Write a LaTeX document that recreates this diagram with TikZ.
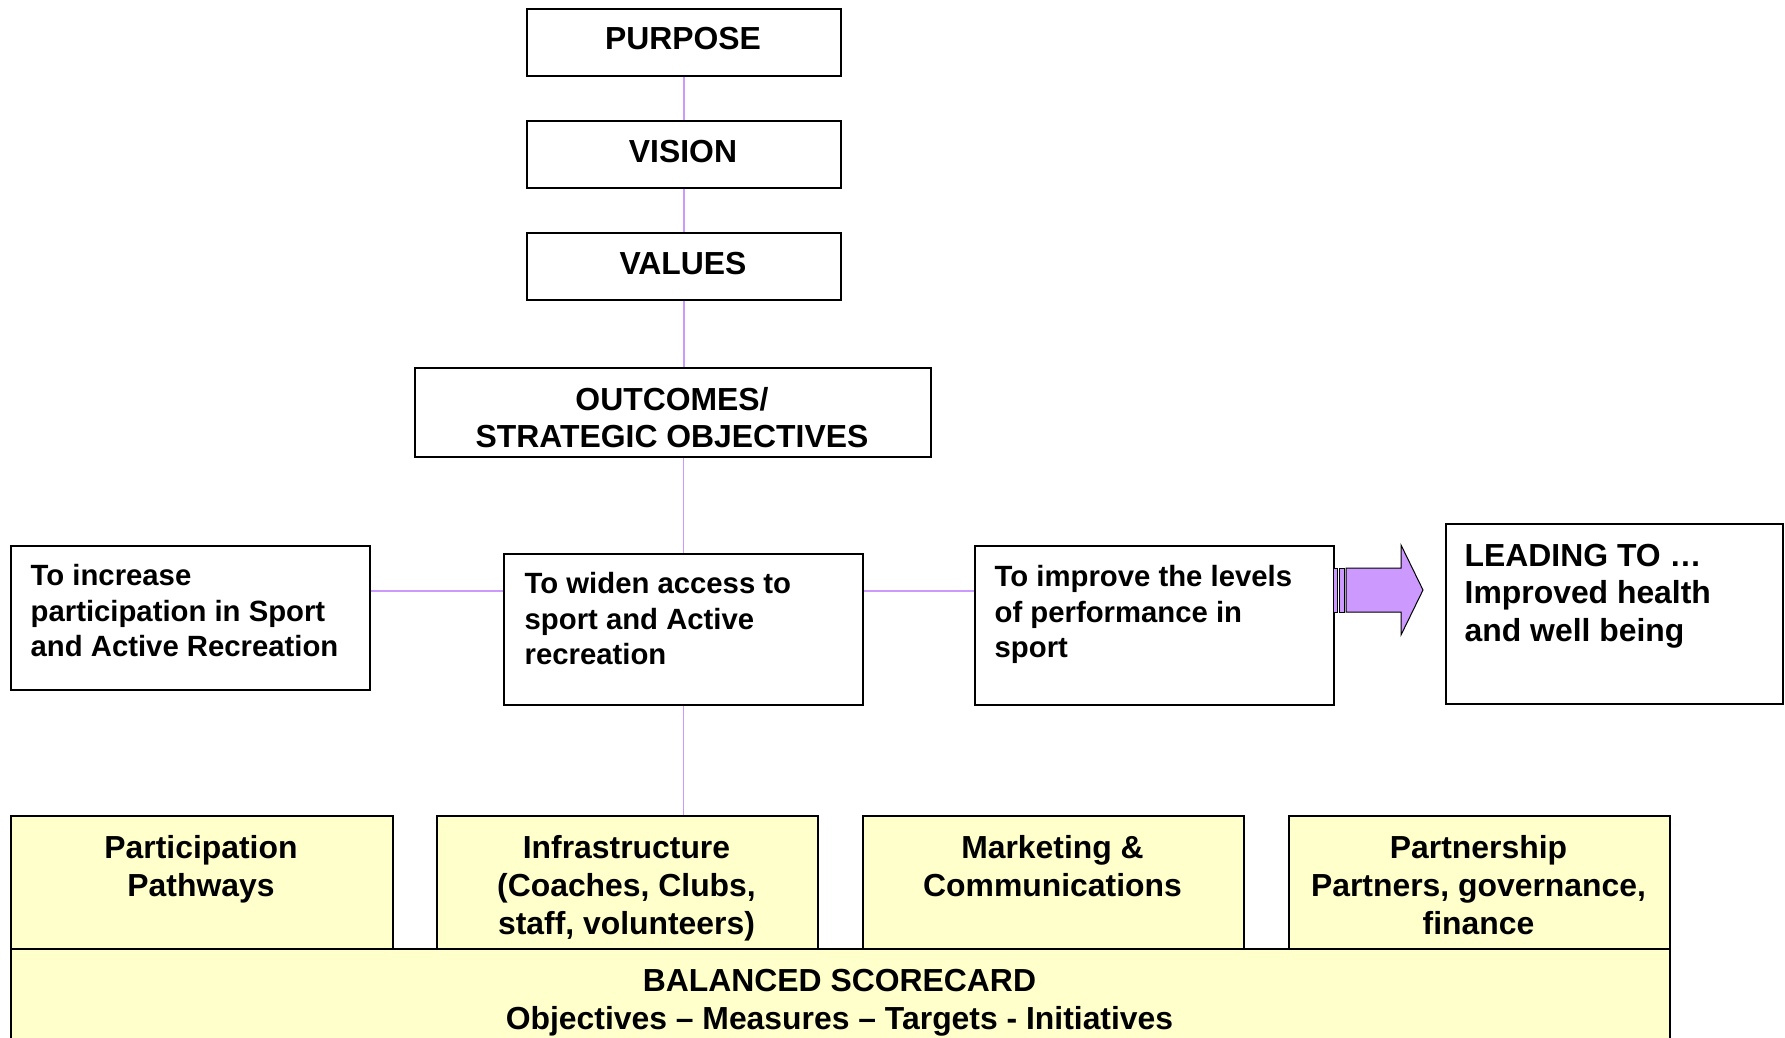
\documentclass[tikz,border=0pt]{standalone}
\usepackage{fontspec}
\setmainfont{Liberation Sans}
\definecolor{connpurple}{HTML}{CC99FF}
\definecolor{arrowpurple}{HTML}{CC99FF}
\definecolor{paleyellow}{HTML}{FFFFCC}
\begin{document}
\begin{tikzpicture}[x=1bp,y=-1bp,
  box/.style={draw=black, line width=1.8bp, fill=white, inner sep=0pt, anchor=north west},
  ybox/.style={box, fill=paleyellow},
  connline/.style={draw=connpurple, line width=1.4bp},
  bigtxt/.style={font=\fontsize{32}{37.6}\selectfont\bfseries, inner sep=0pt, align=center, anchor=north},
  ylwtxt/.style={font=\fontsize{32}{38}\selectfont\bfseries, inner sep=0pt, align=center, anchor=north},
  leadtxt/.style={font=\fontsize{32}{37.6}\selectfont\bfseries, inner sep=0pt, align=left, anchor=north west},
  midtxt/.style={font=\fontsize{29.4}{35.3}\selectfont\bfseries, inner sep=0pt, align=left, anchor=north west},
  bigarrow/.style={fill=arrowpurple, draw=black, line width=1bp, line join=miter},
]
\useasboundingbox (0,0) rectangle (1785,1037);
\clip (0,0) rectangle (1785,1037);

% top column
\node[box, minimum width=314bp, minimum height=67bp] (purpose) at (526,8) {};
\node[box, minimum width=314bp, minimum height=67bp] (vision) at (526,120) {};
\node[box, minimum width=314bp, minimum height=67bp] (values) at (526,232) {};
\node[box, minimum width=516bp, minimum height=89bp] (outcomes) at (414,367) {};
\node[bigtxt] (purposeT) at (683,27.3) {PURPOSE};
\node[bigtxt] (visionT) at (683,140) {VISION};
\node[bigtxt] (valuesT) at (683,251.6) {VALUES};
\node[bigtxt] (outcomesT) at (672,387) {OUTCOMES/\\STRATEGIC OBJECTIVES};

% objective row
\node[box, minimum width=359bp, minimum height=144bp] (left) at (10,545) {};
\node[box, minimum width=359bp, minimum height=151bp] (middle) at (503,553) {};
\node[box, minimum width=359bp, minimum height=159bp] (right) at (974,545) {};
\node[box, minimum width=337bp, minimum height=180bp] (leading) at (1445,523) {};
\node[midtxt] (leftT) at (30.5,564.4) {To increase\\participation in Sport\\and Active Recreation};
\node[midtxt] (middleT) at (524.5,572.4) {To widen access to\\sport and Active\\recreation};
\node[midtxt] (rightT) at (994.5,565.4) {To improve the levels\\of performance in\\sport};
\node[leadtxt] (leadingT) at (1464.5,544) {LEADING TO …\\Improved health\\and well being};

% arrow
\draw[bigarrow] (1333,568) rectangle (1337,612);
\draw[bigarrow] (1339,568) rectangle (1344,612);
\draw[bigarrow] (1346,568) -- (1401,568) -- (1401,545) -- (1423,590) -- (1401,635) -- (1401,612) -- (1346,612) -- cycle;

% bottom row
\node[ybox, minimum width=1659bp, minimum height=110bp] (scorecard) at (10,948) {};
\node[ybox, minimum width=382bp, minimum height=133bp] (pathways) at (10,815) {};
\node[ybox, minimum width=381bp, minimum height=133bp] (infra) at (436,815) {};
\node[ybox, minimum width=381bp, minimum height=133bp] (marketing) at (862,815) {};
\node[ybox, minimum width=381bp, minimum height=133bp] (partnership) at (1288,815) {};
\node[ylwtxt] (pathwaysT) at (201,835.5) {Participation\\Pathways};
\node[ylwtxt] (infraT) at (626.5,835.5) {Infrastructure\\(Coaches, Clubs,\\staff, volunteers)};
\node[ylwtxt] (marketingT) at (1052.5,835.5) {Marketing \&\\Communications};
\node[ylwtxt] (partnershipT) at (1478.5,835.5) {Partnership\\Partners, governance,\\finance};
\node[ylwtxt] (scorecardT) at (839.5,969.5) {BALANCED SCORECARD\\Objectives – Measures – Targets - Initiatives};

% connectors
\coordinate (hy) at (0,591);
\draw[connline] (purpose.south) -- (vision.north);
\draw[connline] (vision.south) -- (values.north);
\draw[connline] (values.south) -- (values.south |- outcomes.north);
\draw[connline] (middle.north |- outcomes.south) -- (middle.north);
\draw[connline] (middle.south) -- (middle.south |- infra.north);
\draw[connline] (left.east |- hy) -- (middle.west |- hy);
\draw[connline] (middle.east |- hy) -- (right.west |- hy);
\end{tikzpicture}
\end{document}
